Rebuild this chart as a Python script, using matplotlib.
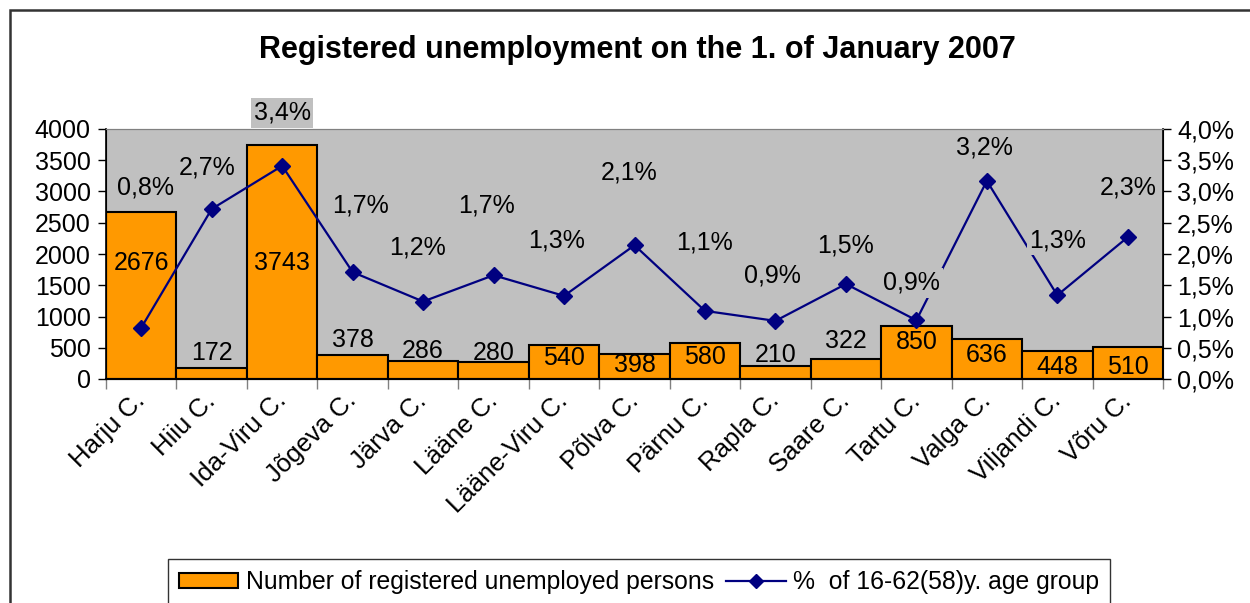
import matplotlib
matplotlib.use("Agg")
import matplotlib.pyplot as plt
from matplotlib.patches import Rectangle
from matplotlib.lines import Line2D
from matplotlib.patches import Patch
from matplotlib.ticker import FuncFormatter, MultipleLocator, FixedLocator
from matplotlib import font_manager

# ---------------- data ----------------
counties = ["Harju C.", "Hiiu C.", "Ida-Viru C.", "Jõgeva C.", "Järva C.", "Lääne C.",
            "Lääne-Viru C.", "Põlva C.", "Pärnu C.", "Rapla C.", "Saare C.", "Tartu C.",
            "Valga C.", "Viljandi C.", "Võru C."]
unemployed = [2676, 172, 3743, 378, 286, 280, 540, 398, 580, 210, 322, 850, 636, 448, 510]
share_pct = [0.82, 2.72, 3.41, 1.71, 1.24, 1.66, 1.33, 2.14, 1.09, 0.93, 1.52, 0.94, 3.17, 1.34, 2.27]

# label placement (positions only, in axis units)
bar_label_y = [1856, 416, 1856, 624, 448, 416, 336, 224, 352, 384, 608, 592, 384, 192, 192]
pct_label_y = [3.07, 3.38, 4.26, 2.78, 2.11, 2.78, 2.22, 3.31, 2.19, 1.66, 2.14, 1.54, 3.70, 2.22, 3.07]
pct_label_dx = [0.06, -0.07, 0.0, 0.11, -0.08, -0.10, -0.11, -0.07, -0.01, -0.04, -0.01, -0.07, -0.04, 0.01, 0.0]

title = "Registered unemployment on the 1. of January 2007"
legend_bar = "Number of registered unemployed persons"
legend_line = "%  of 16-62(58)y. age group"

# ---------------- style ----------------
names = {f.name for f in font_manager.fontManager.ttflist}
base = "Liberation Sans" if "Liberation Sans" in names else "DejaVu Sans"
plt.rcParams['font.family'] = [base, 'DejaVu Sans']

FS = 18

W, H = 1250, 603
fig = plt.figure(figsize=(W / 100, H / 100), dpi=100)
fig.patch.set_facecolor("white")

# outer chart border
fig.add_artist(Rectangle((10 / W, -0.1), 1.2, 1 - 10 / H + 0.1, transform=fig.transFigure,
                         fill=False, edgecolor="#333333", linewidth=1.8))

L, R, T, B = 106, 1163, 129, 379
ax = fig.add_axes([L / W, 1 - B / H, (R - L) / W, (B - T) / H])
ax.set_facecolor("#C0C0C0")

x = list(range(len(counties)))
ax.bar(x, unemployed, width=1.0, color="#FF9900", edgecolor="black", linewidth=1.5, zorder=2)
ax.set_xlim(-0.5, len(counties) - 0.5)
ax.set_ylim(0, 4000)
ax.yaxis.set_major_locator(MultipleLocator(500))
ax.tick_params(axis="y", labelsize=FS, length=6, width=1, direction="out", pad=5)

# x ticks: marks at boundaries, labels at centers
ax.xaxis.set_major_locator(FixedLocator([i - 0.5 for i in range(len(counties) + 1)]))
ax.xaxis.set_major_formatter(FuncFormatter(lambda v, p: ""))
ax.xaxis.set_minor_locator(FixedLocator(x))
ax.set_xticklabels(counties, minor=True, rotation=45, ha="right", va="center",
                   rotation_mode="anchor", fontsize=18.5)
ax.tick_params(axis="x", which="major", length=7, width=1, color="#808080")
ax.tick_params(axis="x", which="minor", length=0, pad=13)

ax.spines["top"].set_color("#808080")
ax.spines["left"].set_linewidth(1.2)
ax.spines["bottom"].set_linewidth(1.5)

for i, (v, ly) in enumerate(zip(unemployed, bar_label_y)):
    ax.text(i, ly, str(v), ha="center", va="center", fontsize=FS, zorder=3)

ax2 = ax.twinx()
ax2.set_ylim(0, 4)
ax2.yaxis.set_major_locator(MultipleLocator(0.5))
ax2.yaxis.set_major_formatter(FuncFormatter(lambda v, p: f"{v:.1f}".replace(".", ",") + "%"))
ax2.tick_params(axis="y", labelsize=FS, length=6, width=1, direction="out", pad=4)
ax2.spines["right"].set_linewidth(1.2)
ax2.spines["top"].set_color("#808080")
ax2.plot(x, share_pct, color="#000080", linewidth=1.6, marker="D", markersize=8,
         markerfacecolor="#000080", markeredgecolor="#000080", zorder=3)

for i, (v, ly, dx) in enumerate(zip(share_pct, pct_label_y, pct_label_dx)):
    ax2.text(i + dx, ly, f"{v:.1f}".replace(".", ",") + "%", ha="center", va="center",
             fontsize=FS, zorder=5, clip_on=False,
             bbox=dict(facecolor="#C0C0C0", edgecolor="none", pad=2))

fig.text(637.5 / W, 1 - 50 / H, title, ha="center", va="center", fontsize=22, fontweight="bold")

handles = [Patch(facecolor="#FF9900", edgecolor="black", linewidth=1.5),
           Line2D([0], [0], color="#000080", linewidth=1.6, marker="D", markersize=7)]
leg = fig.legend(handles, [legend_bar, legend_line], loc="upper left",
                 bbox_to_anchor=(168 / W, 1 - 559 / H), ncol=2, frameon=True, fancybox=False,
                 edgecolor="black", borderaxespad=0, columnspacing=0.5, handletextpad=0.3,
                 handlelength=2.4, handleheight=0.6, borderpad=0.45,
                 prop={"size": 17.8})
leg.get_frame().set_linewidth(1.0)

fig.savefig("out.png", dpi=100)
